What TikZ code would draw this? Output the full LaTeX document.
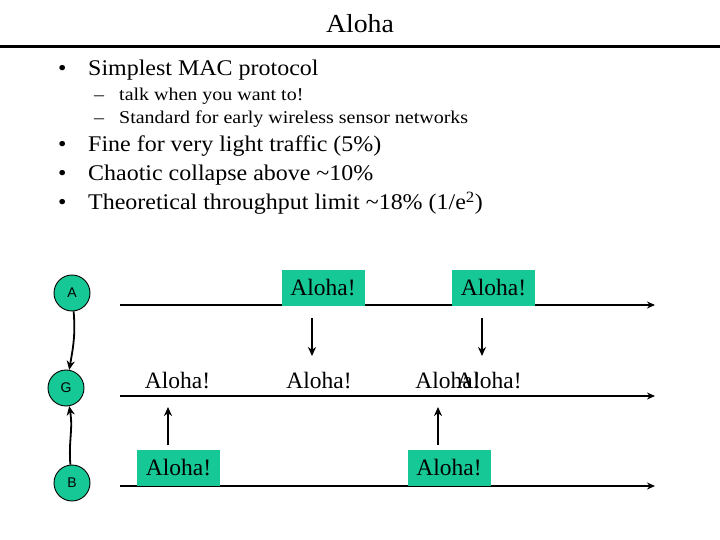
\documentclass[tikz,border=0pt]{standalone}
\usepackage{fontspec}
\setmainfont{Liberation Serif}
\newfontfamily\bodyf{Liberation Serif}[FakeStretch=1.07]
\newfontfamily\subf{Liberation Serif}[FakeStretch=1.11]
\newfontfamily\arialf{Liberation Sans}
\usetikzlibrary{arrows.meta}
\definecolor{aloha}{RGB}{22,200,150}
\tikzset{
  bul/.style={anchor=base west, inner sep=0pt, font=\bodyf\fontsize{22.4}{24}\selectfont},
  subbul/.style={anchor=base west, inner sep=0pt, font=\subf\fontsize{18}{20}\selectfont},
  station/.style={circle, draw=black, line width=0.9pt, fill=aloha, minimum size=36pt, inner sep=0pt, font=\arialf\fontsize{14}{16}\selectfont},
  msgbox/.style={fill=aloha, minimum width=83pt, minimum height=36pt, inner sep=0pt, font=\fontsize{23.5}{26}\selectfont},
  msgtext/.style={anchor=base, inner sep=0pt, font=\fontsize{23.5}{26}\selectfont},
  timeline/.style={line width=2pt, -{Stealth[length=8pt,width=7pt]}},
  sig/.style={line width=1.8pt, -{Stealth[length=9pt,width=8pt]}},
  link/.style={line width=1.8pt, -{Stealth[length=9pt,width=8pt]}}
}
\begin{document}
\begin{tikzpicture}[x=1pt,y=-1pt]
\useasboundingbox (0,0) rectangle (720,540);
% title
\node[anchor=base, inner sep=0pt, font=\bodyf\fontsize{26}{28}\selectfont] (title) at (360,33) {Aloha};
\coordinate (tl) at (0,47);
\coordinate (tr) at (720,47);
\draw[line width=3pt] (tl) -- (tr);
% bullets
\node[bul] (b1d) at (58,75.7) {\textbullet};
\node[bul] (b1) at (88,75.7) {Simplest MAC protocol};
\node[subbul] (s1d) at (94,100.7) {\textendash};
\node[subbul] (s1) at (119,100.7) {talk when you want to!};
\node[subbul] (s2d) at (94,123.3) {\textendash};
\node[subbul] (s2) at (119,123.3) {Standard for early wireless sensor networks};
\node[bul] (b2d) at (58,152) {\textbullet};
\node[bul] (b2) at (88,152) {Fine for very light traffic (5\%)};
\node[bul] (b3d) at (58,181) {\textbullet};
\node[bul] (b3) at (88,181) {Chaotic collapse above \textasciitilde 10\%};
\node[bul] (b4d) at (58,210) {\textbullet};
\node[bul] (b4) at (88,210) {Theoretical throughput limit \textasciitilde 18\% (1/e\textsuperscript{2})};
% stations
\node[station] (A) at (72,293) {A};
\node[station] (G) at (66,388) {G};
\node[station] (B) at (72,483) {B};
\draw[link] (A) to[out=-85,in=80] (G);
\draw[link] (B) to[out=95,in=-80] (G);
% timelines
\coordinate (la0) at (120,305);
\coordinate (la1) at (655,305);
\coordinate (lg0) at (120,396);
\coordinate (lg1) at (655,396);
\coordinate (lb0) at (120,486);
\coordinate (lb1) at (655,486);
\draw[timeline] (la0) -- (la1);
\draw[timeline] (lg0) -- (lg1);
\draw[timeline] (lb0) -- (lb1);
% transmitted messages
\node[msgbox] (ma1) at (323,288) {Aloha!};
\node[msgbox] (ma2) at (493.5,288) {Aloha!};
\node[msgbox] (mb1) at (178.5,468) {Aloha!};
\node[msgbox] (mb2) at (449,468) {Aloha!};
% received at G
\node[msgtext] (g1) at (177.5,388) {Aloha!};
\node[msgtext] (g2) at (319,388) {Aloha!};
\node[msgtext] (g3) at (448,388) {Aloha!};
\node[msgtext] (g4) at (489,388) {Aloha!};
% signal arrows
\coordinate (d1s) at (312,318);
\coordinate (d1e) at (312,356);
\coordinate (d2s) at (482,318);
\coordinate (d2e) at (482,356);
\coordinate (u1s) at (168,445);
\coordinate (u1e) at (168,407);
\coordinate (u2s) at (438,445);
\coordinate (u2e) at (438,407);
\draw[sig] (d1s) -- (d1e);
\draw[sig] (d2s) -- (d2e);
\draw[sig] (u1s) -- (u1e);
\draw[sig] (u2s) -- (u2e);
\end{tikzpicture}
\end{document}
